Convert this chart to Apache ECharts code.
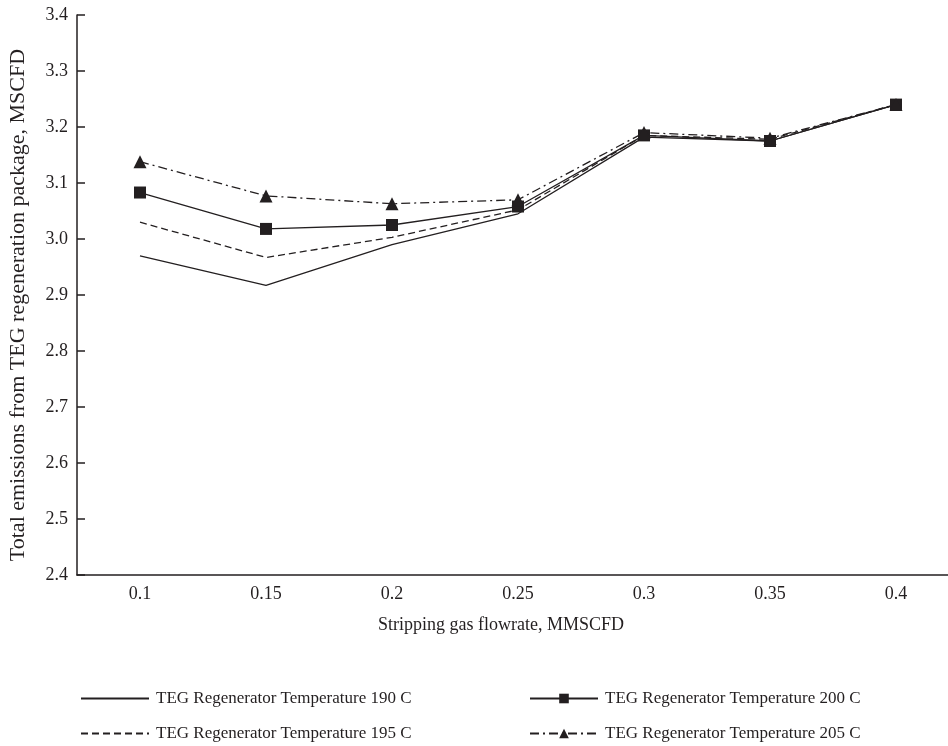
<!DOCTYPE html>
<html>
<head>
<meta charset="utf-8">
<script src="https://cdn.jsdelivr.net/npm/echarts@6/dist/echarts.min.js"></script>
<style>html,body{margin:0;padding:0;background:#fff}#c{width:948px;height:746px}</style>
</head>
<body>
<div id="c"></div>
<script>
const categories = ['0.1','0.15','0.2','0.25','0.3','0.35','0.4'];
const t190 = [2.970, 2.917, 2.990, 3.045, 3.182, 3.175, 3.240];
const t195 = [3.030, 2.967, 3.003, 3.052, 3.185, 3.178, 3.240];
const t200 = [3.083, 3.018, 3.025, 3.058, 3.185, 3.175, 3.240];
const t205 = [3.138, 3.077, 3.063, 3.070, 3.190, 3.180, 3.240];
const names = ['TEG Regenerator Temperature 190 C','TEG Regenerator Temperature 195 C','TEG Regenerator Temperature 200 C','TEG Regenerator Temperature 205 C'];

const FONT = 'Liberation Serif';
const INK = '#231f20';
const legendPos = [[80,690],[80,725],[529,690],[529,725]];
const legends = names.map((n,i)=>({
  data:[i<2?{name:n,itemStyle:{opacity:0}}:{name:n}],
  orient:'horizontal',left:legendPos[i][0],top:legendPos[i][1],
  itemWidth:68,itemHeight:12,padding:0,
  textStyle:{fontFamily:FONT,fontSize:17,color:INK,padding:[0,0,0,2]}
}));
const chart = echarts.init(document.getElementById('c'), null, {renderer:'canvas'});
chart.setOption({
  animation:false,
  backgroundColor:'#fff',
  textStyle:{fontFamily:FONT,color:INK},
  grid:{left:77,right:-11,top:15,bottom:171,containLabel:false,outerBoundsMode:'none'},
  legend:legends,
  xAxis:[
    {type:'category',data:categories,boundaryGap:true,position:'bottom',
     name:'Stripping gas flowrate, MMSCFD',nameLocation:'middle',nameGap:41,
     nameTextStyle:{fontFamily:FONT,fontSize:18,color:INK,padding:[0,34,0,0]},
     axisLine:{lineStyle:{color:INK,width:1.5}},
     axisTick:{inside:true,length:8,lineStyle:{color:INK,width:1.5}},
     axisLabel:{fontFamily:FONT,fontSize:18,color:INK,margin:10},
     splitLine:{show:false}},
    {type:'category',data:categories,boundaryGap:true,position:'bottom',
     axisLine:{show:false},
     axisTick:{inside:true,length:5,alignWithLabel:true,lineStyle:{color:INK,width:1.5}},
     axisLabel:{show:false},splitLine:{show:false}}
  ],
  yAxis:{type:'value',min:2.4,max:3.4,interval:0.1,
     name:'Total emissions from TEG regeneration package, MSCFD',nameLocation:'middle',nameGap:48,
     nameTextStyle:{fontFamily:FONT,fontSize:22,color:INK,padding:[0,20,0,0]},
     axisLine:{show:true,lineStyle:{color:INK,width:1.5}},
     axisTick:{show:true,inside:true,length:8,lineStyle:{color:INK,width:1.5}},
     axisLabel:{fontFamily:FONT,fontSize:18,color:INK,margin:9,formatter:v=>v.toFixed(1)},
     splitLine:{show:false}},
  series:[
    {name:names[0],type:'line',data:t190,symbol:'none',color:INK,lineStyle:{color:INK,width:1.3,type:'solid'}},
    {name:names[1],type:'line',data:t195,symbol:'none',color:INK,lineStyle:{color:INK,width:1.3,type:[7,4]}},
    {name:names[2],type:'line',data:t200,symbol:'rect',symbolSize:12,color:INK,itemStyle:{color:INK},lineStyle:{color:INK,width:1.3,type:'solid'}},
    {name:names[3],type:'line',data:t205,symbol:'triangle',symbolSize:13,color:INK,itemStyle:{color:INK},lineStyle:{color:INK,width:1.3,type:[9,4,2,4]}}
  ]
});
</script>
</body>
</html>
